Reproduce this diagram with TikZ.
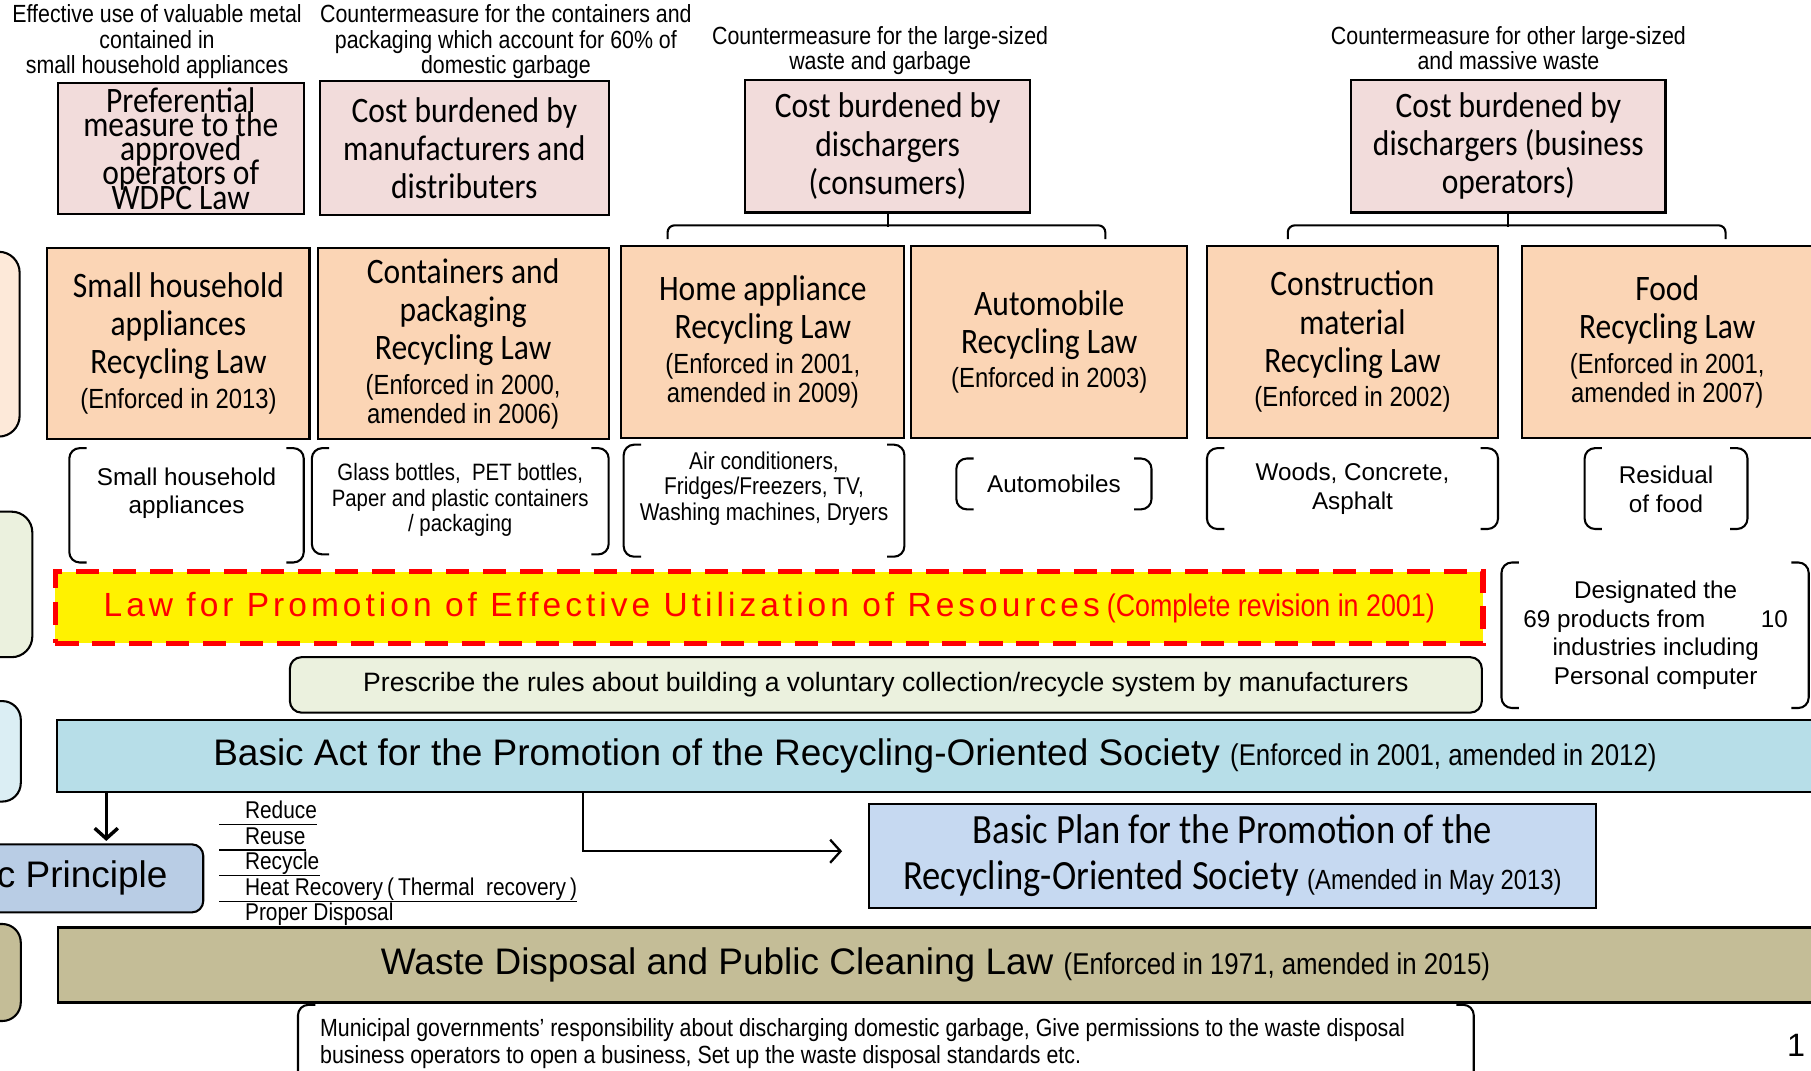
\documentclass[tikz,border=0pt]{standalone}
\usepackage{fontspec}
\setmainfont{Liberation Sans}
\newfontfamily\condfont[FakeStretch=0.88]{Carlito}
\newfontfamily\narrowfont[FakeStretch=0.86]{Liberation Sans}
\newfontfamily\spacedfont[LetterSpace=12]{Liberation Sans}
\usetikzlibrary{arrows.meta}
\tikzset{>=latex}
\lineskiplimit=-100pt
\definecolor{costpink}{HTML}{F2DCDB}
\definecolor{laworange}{HTML}{FBD5B5}
\definecolor{prescgreen}{HTML}{EBF1DE}
\definecolor{actblue}{HTML}{B7DEE8}
\definecolor{prinblue}{HTML}{B9CDE5}
\definecolor{planblue}{HTML}{C6D9F1}
\definecolor{wastekhaki}{HTML}{C4BD97}
\definecolor{sidepeach}{HTML}{FDE9D9}
\definecolor{sideblue}{HTML}{DBEEF4}
\tikzset{
  costbox/.style={draw, line width=1.8pt, fill=costpink, inner sep=0pt, align=center,
    font=\condfont\fontsize{31}{33}\selectfont},
  lawbox/.style={costbox, fill=laworange},
  note/.style={inner sep=0pt, align=center, font=\narrowfont\fontsize{21.5}{22}\selectfont},
  item/.style={inner sep=0pt, align=center, font=\fontsize{21}{25}\selectfont},
  narrowitem/.style={item, font=\narrowfont\fontsize{21}{22}\selectfont},
  bar/.style={draw, line width=1.8pt, inner sep=0pt, font=\fontsize{32}{36}\selectfont},
  brkline/.style={line width=1.8pt, rounded corners=9pt},
  rlist/.style={anchor=west, inner sep=0pt, text height=15pt, text depth=5pt,
    font=\narrowfont\fontsize{21}{22}\selectfont},
  arr/.style={-{Straight Barb[length=9pt,width=20pt]}},
}
\newcommand{\yrs}[1]{{\narrowfont\fontsize{24}{30}\selectfont #1}}
\newcommand{\yrsb}[1]{{\narrowfont\fontsize{26}{30}\selectfont #1}}
\newcommand{\brk}[4]{%
  \draw[brkline] ({#1+15},#2) -- (#1,#2) -- (#1,#4) -- ({#1+15},#4);
  \draw[brkline] ({#3-15},#2) -- (#3,#2) -- (#3,#4) -- ({#3-15},#4);}

\begin{document}
\begin{tikzpicture}[x=1pt, y=-1pt]
    \path[use as bounding box] (0,0) rectangle (1568,927);
    \clip (0,0) rectangle (1568,927);
    \draw[line width=1.8pt, fill=sidepeach, rounded corners=18pt] (-80,218) rectangle (17,378);
    \draw[line width=1.8pt, fill=prescgreen, rounded corners=18pt] (-80,443) rectangle (28,569);
    \draw[line width=1.8pt, fill=sideblue, rounded corners=16pt] (-80,607) rectangle (18,694);
    \draw[line width=1.8pt, fill=wastekhaki, rounded corners=16pt] (-80,800) rectangle (18,884);

    \node[note] (tmetal) at (136,36) {Effective use of valuable metal\\contained in\\small household appliances};
    \node[note] (tcont) at (438,36) {Countermeasure for the containers and\\packaging which account for 60\% of\\domestic garbage};
    \node[note] (tlarge) at (762,44) {Countermeasure for the large-sized\\waste and garbage};
    \node[note] (tother) at (1306,41.5) {Countermeasure for other large-sized\\and massive waste};

    \node[costbox, minimum width=213pt, minimum height=113pt, font=\condfont\fontsize{31}{21}\selectfont] (pref) at (156.5,128.5) {Preferential\\measure to the\\approved\\operators of\\WDPC Law};
    \node[costbox, minimum width=250pt, minimum height=116pt] (manu) at (402,128) {Cost burdened by\\manufacturers and\\distributers};
    \node[costbox, minimum width=247pt, minimum height=115pt] (cons) at (768.5,126.5) {Cost burdened by\\dischargers\\(consumers)};
    \node[costbox, minimum width=272pt, minimum height=115pt] (biz) at (1306,126.5) {Cost burdened by\\dischargers (business\\operators)};

    \node[lawbox, minimum width=227pt, minimum height=165pt] (small) at (154.5,297.5) {Small household\\appliances\\Recycling Law\\[-3pt]\yrs{(Enforced in 2013)}};
    \node[lawbox, minimum width=252pt, minimum height=165pt] (contlaw) at (401,297.5) {Containers and\\packaging\\Recycling Law\\[-3pt]\yrs{(Enforced in 2000,}\\[-8pt]\yrs{amended in 2006)}};
    \node[lawbox, minimum width=245pt, minimum height=166pt] (home) at (660.5,296) {Home appliance\\Recycling Law\\[-3pt]\yrs{(Enforced in 2001,}\\[-8pt]\yrs{amended in 2009)}};
    \node[lawbox, minimum width=239pt, minimum height=166pt] (auto) at (908.5,296) {Automobile\\Recycling Law\\[-3pt]\yrs{(Enforced in 2003)}};
    \node[lawbox, minimum width=252pt, minimum height=166pt] (constr) at (1171,296) {Construction\\material\\Recycling Law\\[-3pt]\yrs{(Enforced in 2002)}};
    \node[lawbox, minimum width=251pt, minimum height=166pt] (food) at (1443.5,296) {Food\\Recycling Law\\[-3pt]\yrs{(Enforced in 2001,}\\[-8pt]\yrs{amended in 2007)}};

    \draw[line width=1.8pt] (cons.south) -- ++(0,12);
    \draw[brkline, rounded corners=6pt] ([xshift=-82.5pt, yshift=5pt]home.north) -- ++(0,-12) -| ([xshift=48.5pt, yshift=5pt]auto.north);
    \draw[line width=1.8pt] (biz.south) -- ++(0,12);
    \draw[brkline, rounded corners=6pt] ([xshift=-56pt, yshift=5pt]constr.north) -- ++(0,-12) -| ([xshift=50.5pt, yshift=5pt]food.north);

    \node[item] (ismall) at (161.5,427) {Small household\\appliances};
    \brk{60}{388}{263}{487}
    \node[narrowitem, font=\narrowfont\fontsize{20.5}{22}\selectfont] (icont) at (398.5,433) {Glass bottles,\ \ PET bottles,\\Paper and plastic containers\\/ packaging};
    \brk{270}{388}{527}{480}
    \node[narrowitem] (ihome) at (661.5,423) {Air conditioners,\\Fridges/Freezers, TV,\\Washing machines, Dryers};
    \brk{540}{385}{783}{482}
    \node[item] (iauto) at (912.5,419) {Automobiles};
    \brk{828}{397}{997}{441}
    \node[item] (iconstr) at (1171,423.5) {Woods, Concrete,\\Asphalt};
    \brk{1045}{388}{1297}{458}
    \node[item] (ifood) at (1442.5,423.5) {Residual\\of food};
    \brk{1372}{388}{1513}{458}
    \node[item] (idesig) at (1433.5,550) {Designated the\\69 products from\hspace{48pt}10\\industries including\\Personal computer};
    \brk{1300}{487}{1566}{613}

    \node[draw=red, line width=4.5pt, dash pattern=on 20pt off 12pt, fill=yellow, minimum width=1236pt, minimum height=62pt, inner sep=0pt, text=red] (effres) at (666,526) {{\spacedfont\fontsize{29}{32}\selectfont Law for Promotion of Effective Utilization of Resources}\hspace{6pt}{\narrowfont\fontsize{27}{30}\selectfont (Complete revision in 2001)}};
    \node[draw, line width=1.8pt, fill=prescgreen, rounded corners=10pt, minimum width=1032pt, minimum height=48pt, inner sep=0pt, font=\fontsize{23}{26}\selectfont] (presc) at (767,593) {Prescribe the rules about building a voluntary collection/recycle system by manufacturers};

    \node[bar, fill=actblue, minimum width=1521pt, minimum height=63pt] (act) at (809.5,654.5) {Basic Act for the Promotion of the Recycling-Oriented Society \yrsb{(Enforced in 2001, amended in 2012)}};
    \node[bar, fill=prinblue, rounded corners=10pt, minimum width=272pt, minimum height=59pt] (prin) at (40,760.5) {Basic Principle};
    \node[bar, fill=planblue, minimum width=630pt, minimum height=90pt, align=center, font=\condfont\fontsize{36}{40}\selectfont] (plan) at (1067,741) {Basic Plan for the Promotion of the\\Recycling-Oriented Society {\narrowfont\fontsize{24}{28}\selectfont (Amended in May 2013)}};
    \node[bar, fill=wastekhaki, minimum width=1520pt, minimum height=65pt] (waste) at (810,835.5) {Waste Disposal and Public Cleaning Law \yrsb{(Enforced in 1971, amended in 2015)}};

    \coordinate (dn) at (92,0);
    \draw[arr, line width=3pt, shorten >=2pt] (act.south -| dn) -- (prin.north -| dn);
    \coordinate (bend) at (505,0);
    \draw[arr, line width=2pt, shorten >=22pt] (act.south -| bend) |- ([yshift=4pt]plan.west);

    \node[rlist] (r1) at (212,704) {Reduce};
    \node[rlist] (r2) at (212,726) {Reuse};
    \node[rlist] (r3) at (212,748) {Recycle};
    \node[rlist] (r4) at (212,770) {Heat Recovery\,(\,Thermal\ \ recovery\,)};
    \node[rlist] (r5) at (212,792) {Proper Disposal};
    \draw[line width=1pt] ([xshift=-22pt]r1.south west) -- (r1.south east);
    \draw[line width=1.8pt] ([xshift=-22pt]r2.south west) -- (r2.south east);
    \draw[line width=1pt] ([xshift=-22pt]r3.south west) -- (r3.south east);
    \draw[line width=1pt] ([xshift=-22pt]r4.south west) -- (r4.south east);

    \node[anchor=west, align=left, inner sep=0pt, font=\narrowfont\fontsize{21.5}{23}\selectfont] (munic) at (277,903.5) {Municipal governments’ responsibility about discharging domestic garbage, Give permissions to the waste disposal\\business operators to open a business, Set up the waste disposal standards etc.};
    \brk{258}{870}{1276}{960}
    \node[inner sep=0pt, font=\fontsize{28}{30}\selectfont] (pgno) at (1555,905) {1};
\end{tikzpicture}
\end{document}
